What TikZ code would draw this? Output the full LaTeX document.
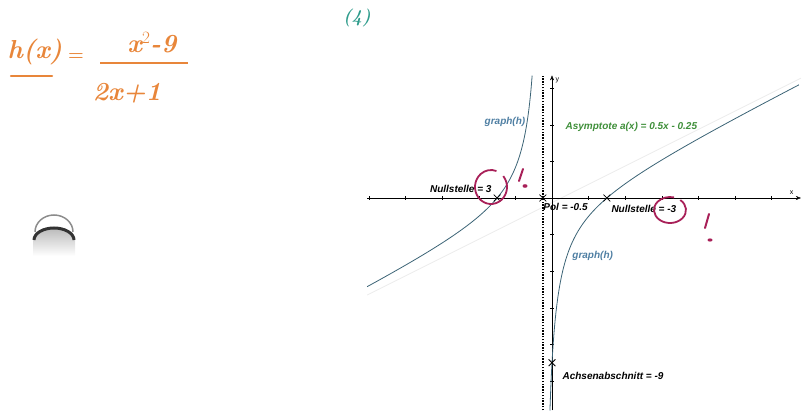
\documentclass[tikz,border=0pt]{standalone}
\usepackage{fontspec}
\usepackage{xcolor}
\usepackage{tikz}
\usetikzlibrary{positioning, arrows.meta, shapes.misc}
\newfontfamily\labelfont{Liberation Sans}
\definecolor{HandOrange}{HTML}{E8863A}
\definecolor{HandTeal}{HTML}{2F9C8C}
\definecolor{MarkRed}{HTML}{A82058}
\definecolor{GraphBlue}{HTML}{3B6375}
\definecolor{LabelBlue}{HTML}{4F7FA3}
\definecolor{AsymGreen}{HTML}{3F8F3A}
\definecolor{AsymGray}{HTML}{EBEBEB}
\definecolor{smudgeGray}{HTML}{8C8C8C}

\begin{document}
\begin{tikzpicture}[x=1pt, y=-1pt,
  hand/.style={text=HandOrange, font=\fontsize{26}{28}\selectfont\bfseries\itshape, inner sep=0pt},
  plotlabel/.style={font=\labelfont\bfseries\itshape\fontsize{10}{12}\selectfont, inner sep=1pt},
  xmark/.style={cross out, draw, thick, minimum size=6pt, inner sep=0pt},
  redmark/.style={MarkRed, line width=2pt, line cap=round}]
  \useasboundingbox (0,0) rectangle (812,417);
  % handwritten function term (orange)
  \node[hand] (hx) at (35,52) {h(x)};
  \node[hand, font=\fontsize{18}{20}\selectfont\bfseries] (eq) at (76,57) {=};
  \node[hand] (num) at (152,43) {x$^2$-9};
  \node[hand] (den) at (127,93) {2x+1};
  \draw[HandOrange, line width=1.6pt] (100,63) -- (188,63);
  \draw[HandOrange, line width=2.5pt, line cap=round] (11,76) -- (52,76);
  % task number
  \node[text=HandTeal, font=\fontsize{18}{20}\selectfont\bfseries\itshape] (task) at (357,18) {(4)};
  % scan smudge at the left
  \shade[top color=smudgeGray!60, bottom color=white] (33,240) arc[start angle=180, end angle=360, x radius=21, y radius=12] -- (75,256) -- (33,256) -- cycle;
  \draw[smudgeGray, line width=1.5pt] (35,232) arc[start angle=180, end angle=360, x radius=19, y radius=17];
  \draw[black!80, line width=3pt] (34,240) arc[start angle=180, end angle=360, x radius=20, y radius=12];
  % coordinate system of h
  \begin{scope}[shift={(552,198)}, x=18.3pt, y=18.3pt]
    \def\xmin{-10.1}\def\xmax{13.6}\def\ymin{-11.6}\def\ymax{6.7}
    % asymptote (faint)
    \draw[AsymGray, thick] (\xmin,{0.5*\xmin-0.25}) -- (\xmax,{0.5*\xmax-0.25});
    % axes with ticks
    \draw[-{Stealth[length=5pt, width=4pt]}] (\xmin,0) -- (\xmax,0);
    \draw[-{Stealth[length=5pt, width=4pt]}] (0,\ymin) -- (0,\ymax);
    \foreach \t in {-10,-8,...,-2,2,4,...,12} \draw (\t,0.1) -- (\t,-0.1);
    \foreach \t in {-10,-8,...,-2,2,4,6} \draw (0.1,\t) -- (-0.1,\t);
    \node[font=\labelfont\fontsize{7}{8}\selectfont] (xlab) at (13.1,0.3) {x};
    \node[font=\labelfont\fontsize{7}{8}\selectfont] (ylab) at (0.3,6.45) {y};
    % pole line
    \draw[dash pattern=on 1.4pt off 1.4pt, line width=1.3pt] (-0.5,\ymin) -- (-0.5,\ymax);
    % both branches of h
    \draw[GraphBlue, thick, domain=-10.1:-1.085, samples=150, smooth] plot (\x, {(\x*\x-9)/(2*\x+1)});
    \draw[GraphBlue, thick, domain=-0.113:13.5, samples=250, smooth] plot (\x, {(\x*\x-9)/(2*\x+1)});
    % marked points
    \node[xmark] (zl) at (-3,0) {};
    \node[xmark] (pol) at (-0.5,0) {};
    \node[xmark] (zr) at (3,0) {};
    \node[xmark] (ya) at (0,-9) {};
    % labels
    \node[plotlabel, above left=1pt and 1pt of zl] (lblNsL) {Nullstelle = 3};
    \node[plotlabel, below right=1pt and -4pt of pol] (lblPol) {Pol = -0.5};
    \node[plotlabel, below right=3pt and 0pt of zr] (lblNsR) {Nullstelle = -3};
    \node[plotlabel, below right=5pt and 6pt of ya] (lblAchse) {Achsenabschnitt = -9};
    \node[plotlabel, text=LabelBlue] (lblGraphL) at (-2.57,4.15) {graph(h)};
    \node[plotlabel, text=LabelBlue, anchor=west] (lblGraphR) at (1.05,-3.17) {graph(h)};
    \node[plotlabel, text=AsymGreen, anchor=west] (lblAsym) at (0.68,3.88) {Asymptote a(x) = 0.5x - 0.25};
  \end{scope}
  % teacher's marks (red)
  \draw[MarkRed, line width=1.8pt] (491,187) ++(-40:16 and 17) arc[start angle=-40, end angle=290, x radius=16, y radius=17];
  \draw[redmark] (523,169) -- (519,181);
  \fill[MarkRed] (525,186) ellipse (2.5 and 1.8);
  \draw[MarkRed, line width=1.8pt] (670,210) ++(-50:16 and 13) arc[start angle=-50, end angle=285, x radius=16, y radius=13];
  \draw[redmark] (709,214) -- (705,228);
  \fill[MarkRed] (710,240) ellipse (2.5 and 1.6);
\end{tikzpicture}
\end{document}
